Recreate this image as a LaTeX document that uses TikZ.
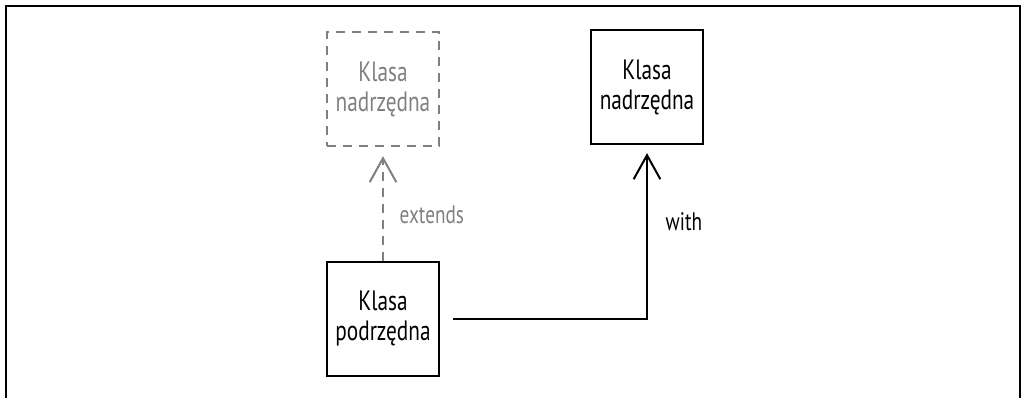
\documentclass[tikz,border=0pt]{standalone}
\usepackage{fontspec}
\setmainfont{PT Sans}[FakeStretch=0.76]
\usetikzlibrary{arrows.meta}
\definecolor{szary}{RGB}{128,128,128}
\tikzset{
  klasa/.style={draw, line width=1.7pt, minimum width=84pt, minimum height=85.5pt,
    inner sep=0pt, align=center, font=\fontsize{21}{22.5}\selectfont},
  wirtualna/.style={klasa, draw=szary, text=szary, line width=1.2pt, dash pattern=on 7pt off 5pt},
  etykieta/.style={anchor=west, font=\fontsize{19}{22}\selectfont},
  grot/.style={-{Straight Barb[length=18pt, width=20pt, line width=1.5pt]}}
}
\begin{document}
\begin{tikzpicture}[x=0.75pt, y=-0.75pt]
\useasboundingbox (0,0) rectangle (1026,398);
% Frame
\draw[line width=1.5pt] (6,398) -- (6,6) -- (1020,6) -- (1020,398);

% Classes
\node[wirtualna] (nad1) at (383,89) {Klasa\\nadrzędna};
\node[klasa] (nad2) at (647,87) {Klasa\\nadrzędna};
\node[klasa] (pod) at (383,319) {Klasa\\podrzędna};

% extends (dashed)
\draw[grot, szary, line width=1.2pt, dash pattern=on 7pt off 5pt, shorten >=7pt]
  (pod.north) -- (nad1.south);
\node[etykieta, text=szary] (ext) at (395,215) {extends};

% with
\draw[grot, line width=1.5pt, shorten <=10pt, shorten >=6pt]
  (pod.east) -| (nad2.south);
\node[etykieta] (with) at (661,222) {with};
\end{tikzpicture}
\end{document}
